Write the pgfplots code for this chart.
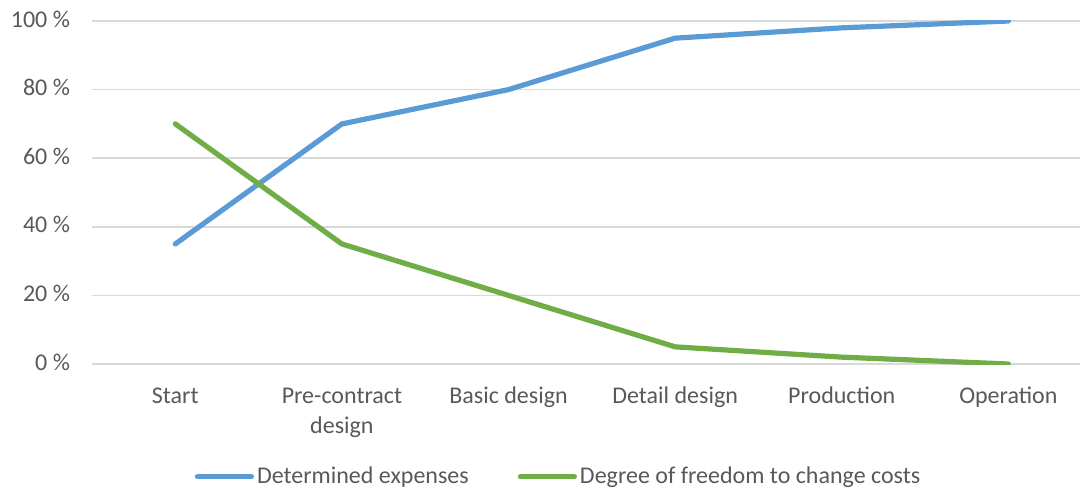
\documentclass[border=0pt]{standalone}
\usepackage{fontspec}
\setmainfont{Carlito}
\usepackage{pgfplots}
\pgfplotsset{compat=1.18}
\definecolor{txt}{HTML}{595959}
\definecolor{gridc}{HTML}{D9D9D9}
\definecolor{cblue}{HTML}{5B9BD5}
\definecolor{cgreen}{HTML}{70AD47}
\begin{document}
\begin{tikzpicture}
\path[use as bounding box] (-46bp,-62.5bp) rectangle (494bp,182bp);
\begin{axis}[
  at={(0,0)}, anchor=south west,
  scale only axis, width=494bp, height=171.5bp,
  xmin=-0.5, xmax=5.43, ymin=0, ymax=100,
  axis line style={draw=none},
  tick style={draw=none},
  ymajorgrids, grid style={color=gridc, line width=0.75bp},
  ytick={0,20,40,60,80,100},
  yticklabels={0 \%,20 \%,40 \%,60 \%,80 \%,100 \%},
  xtick={0,1,2,3,4,5},
  xticklabels={Start,{Pre-contract\\design},Basic design,Detail design,Production,Operation},
  typeset ticklabels with strut,
  tick label style={font=\fontsize{12bp}{15bp}\selectfont, text=txt},
  x tick label style={align=center, anchor=north, yshift=-5.5bp},
  y tick label style={anchor=east, xshift=-7.5bp},
  legend style={at={(0.4727,-0.329)}, anchor=center, draw=none, fill=none,
    legend columns=2, font=\fontsize{12bp}{14bp}\selectfont, text=txt,
    /tikz/every even column/.append style={column sep=23bp},
    inner sep=0pt, nodes={inner sep=1.5bp}},
  legend image code/.code={\draw[#1, line cap=round] (0bp,0bp) -- (27bp,0bp);},
]
\addplot[color=cblue, line width=2.6bp, line cap=round, line join=round] coordinates {(0,35) (1,70) (2,80) (3,95) (4,98) (5,100)};
\addlegendentry{Determined expenses}
\addplot[color=cgreen, line width=2.6bp, line cap=round, line join=round] coordinates {(0,70) (1,35) (2,20) (3,5) (4,2) (5,0)};
\addlegendentry{Degree of freedom to change costs}
\end{axis}
\end{tikzpicture}
\end{document}
